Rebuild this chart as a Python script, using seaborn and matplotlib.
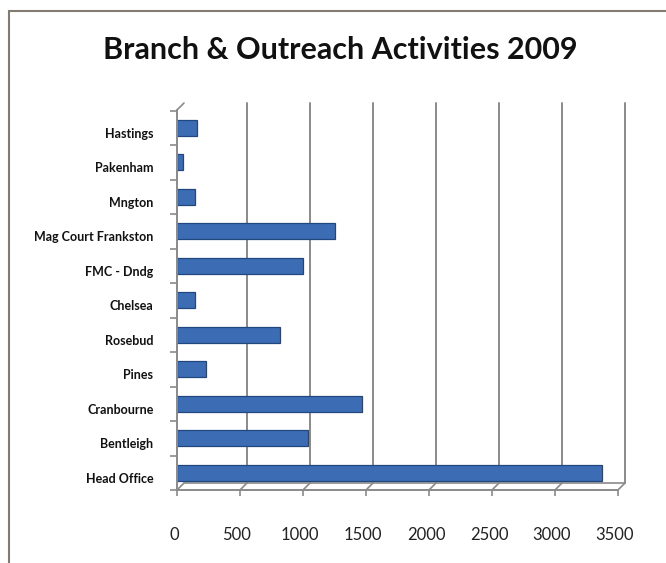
import matplotlib
matplotlib.use("Agg")
import matplotlib.pyplot as plt
import matplotlib.transforms as mtransforms
from matplotlib.patches import Rectangle
from matplotlib.lines import Line2D
import seaborn as sns
import pandas as pd

categories = ["Hastings", "Pakenham", "Mngton", "Mag Court Frankston", "FMC - Dndg",
              "Chelsea", "Rosebud", "Pines", "Cranbourne", "Bentleigh", "Head Office"]
activities = [160, 50, 140, 1250, 1000, 140, 820, 230, 1470, 1040, 3370]
x_ticks = [0, 500, 1000, 1500, 2000, 2500, 3000, 3500]

df = pd.DataFrame({"Branch": categories, "Activities": activities})

sns.set_theme(style="white")
plt.rcParams["font.family"] = ["Lato", "DejaVu Sans"]

W, H = 666, 563
fig = plt.figure(figsize=(W / 100, H / 100), dpi=100)
ax_left, ax_right, ax_top, ax_bottom = 177, 618, 103, 490
ax = fig.add_axes([ax_left / W, (H - ax_bottom) / H, (ax_right - ax_left) / W, (ax_bottom - ax_top) / H])

bar_color = "#3B6CB4"
edge_color = "#22477F"
sns.barplot(data=df, x="Activities", y="Branch", orient="h", order=categories,
            color=bar_color, width=0.47, edgecolor=edge_color, linewidth=0.9,
            saturation=1, ax=ax)

ax.set_xlim(0, 3500)
ax.set_ylim(10.35, -0.72)
ax.set_xlabel("")
ax.set_ylabel("")

for s in ["top", "right", "bottom", "left"]:
    ax.spines[s].set_visible(False)

grid_c = "#8a8a8a"
dx = 0.07  # inches of perspective offset (7px)
off = mtransforms.ScaledTranslation(dx, dx, fig.dpi_scale_trans)
blend = mtransforms.blended_transform_factory(ax.transData, ax.transAxes)
h_ax = ax_bottom - ax_top
w_ax = ax_right - ax_left

# back-wall gridlines (shifted to the back plane)
for v in x_ticks[1:]:
    ax.add_line(Line2D([v, v], [0, 1 - 7 / h_ax], transform=blend + off,
                       color=grid_c, lw=1.4, clip_on=False, zorder=0))
# floor back edge
ax.add_line(Line2D([0, 3500], [0, 0], transform=blend + off, color=grid_c, lw=1.2,
                   clip_on=False, zorder=0))
# floor front edge
ax.add_line(Line2D([0, 3500], [0, 0], transform=blend, color=grid_c, lw=1.4,
                   clip_on=False, zorder=3))
# slanted floor ticks
for v in x_ticks:
    ax.add_line(Line2D([v, v + 3500 * 7 / w_ax], [0, 7 / h_ax],
                       transform=blend, color=grid_c, lw=1.2, clip_on=False, zorder=1))
# left wall
ax.add_line(Line2D([0, 0], [0, 1 - 7 / h_ax], transform=blend, color=grid_c,
                   lw=1.4, clip_on=False, zorder=3))
ax.add_line(Line2D([0, 3500 * 7 / w_ax], [1 - 7 / h_ax, 1],
                   transform=blend, color=grid_c, lw=1.2, clip_on=False, zorder=3))

# ticks
ax.set_xticks(x_ticks)
ax.set_xticklabels([str(t) for t in x_ticks])
ax.tick_params(axis="x", length=4, width=1.2, color=grid_c, pad=23, labelsize=12,
               labelcolor="#222222", direction="out", bottom=True)
for lbl in ax.get_xticklabels():
    lbl.set_transform(lbl.get_transform() + mtransforms.ScaledTranslation(-0.03, 0, fig.dpi_scale_trans))

ax.tick_params(axis="y", which="major", length=0, pad=17, labelsize=9, labelcolor="#111111")
ax.set_yticks(range(len(categories)), minor=False)
ax.set_yticks([i + 0.5 for i in range(-1, len(categories))], minor=True)
ax.tick_params(axis="y", which="minor", length=5, width=1.2, color=grid_c, left=True)
for lbl in ax.get_yticklabels():
    lbl.set_fontweight("bold")
    lbl.set_transform(lbl.get_transform() + mtransforms.ScaledTranslation(0, -0.05, fig.dpi_scale_trans))

fig.text(340 / W, 1 - 50 / H, "Branch & Outreach Activities 2009", ha="center", va="center",
         fontsize=22, fontweight="bold", color="#111111")

# outer border
fig.patches.append(Rectangle((8.5 / W, -0.1), 2, 1 + 0.1 - 11.5 / H, transform=fig.transFigure,
                             fill=False, edgecolor="#827b72", lw=1.5))

fig.savefig("out.png", dpi=100)
